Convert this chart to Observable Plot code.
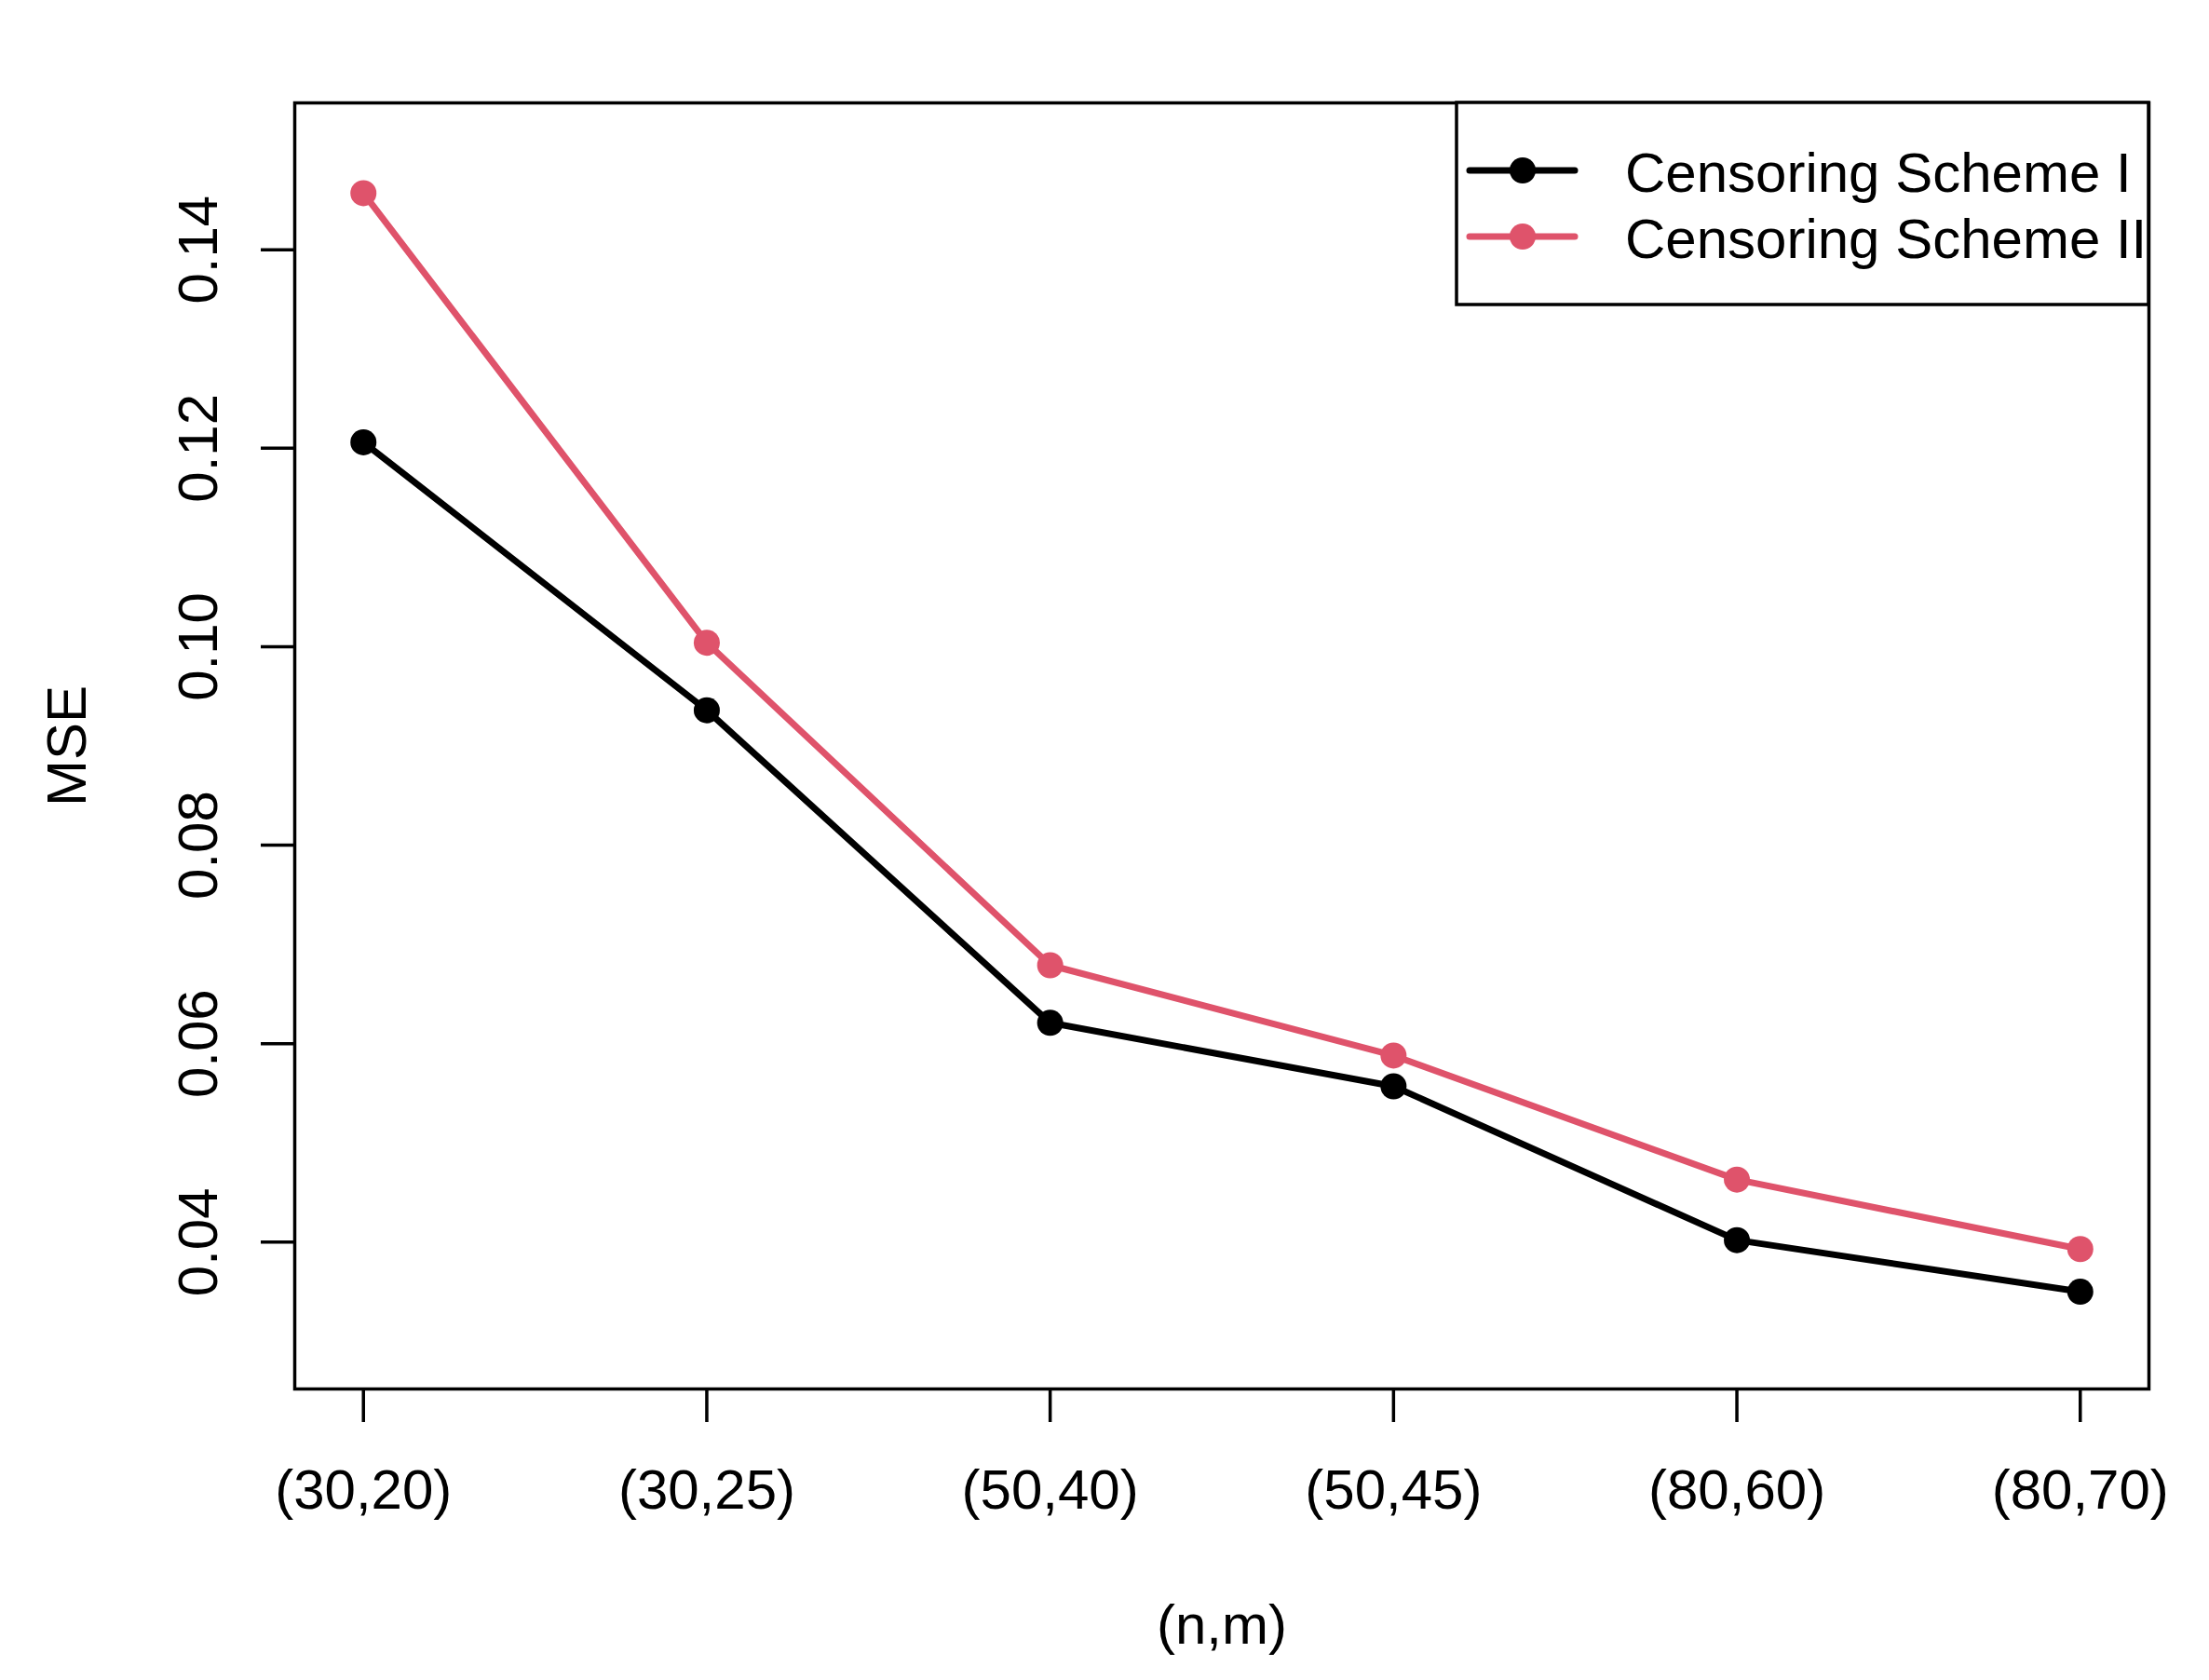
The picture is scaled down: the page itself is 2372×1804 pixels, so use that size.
<!DOCTYPE html>
<html>
<head>
<meta charset="utf-8">
<script src="https://cdn.jsdelivr.net/npm/d3@7"></script>
<script src="https://cdn.jsdelivr.net/npm/@observablehq/plot@0.6"></script>
<style>
  html, body { margin: 0; padding: 0; background: #fff; }
  #chart { width: 2372px; height: 1804px; }
</style>
</head>
<body>
<div id="chart"></div>
<script>
// ---- data ----
const categories = ["(30,20)", "(30,25)", "(50,40)", "(50,45)", "(80,60)", "(80,70)"];
const schemeI  = [0.1206, 0.0936, 0.0621, 0.0557, 0.0402, 0.0350];
const schemeII = [0.1457, 0.1004, 0.0679, 0.0588, 0.0463, 0.0393];
const seriesNames = ["Censoring Scheme I", "Censoring Scheme II"];
const seriesColors = ["#000000", "#DF536B"];
const yTicks = [0.04, 0.06, 0.08, 0.10, 0.12, 0.14];
const yLimits = [0.03, 0.15];
const xLabel = "(n,m)";
const yLabel = "MSE";

// ---- table ----
const xIndex = categories.map((c, i) => i + 1);
const rows = [];
[schemeI, schemeII].forEach((vals, s) => {
  vals.forEach((v, i) => rows.push({x: xIndex[i], cat: categories[i], value: v, series: seriesNames[s]}));
});

// R-style 4% axis extension
const ext = (lo, hi) => { const d = (hi - lo) * 0.04; return [lo - d, hi + d]; };
const xDomain = ext(xIndex[0], xIndex[xIndex.length - 1]);
const yDomain = ext(yLimits[0], yLimits[1]);

const W = 2372, H = 1804;
const mL = 316, mR = 65, mT = 110, mB = 313;
const font = "'Liberation Sans', Arial, Helvetica, sans-serif";

const chart = Plot.plot({
  width: W,
  height: H,
  marginLeft: mL,
  marginRight: mR,
  marginTop: mT,
  marginBottom: mB,
  style: {fontFamily: font, fontSize: "60px", background: "#fff", color: "#000"},
  x: {type: "linear", domain: xDomain},
  y: {type: "linear", domain: yDomain},
  color: {domain: seriesNames, range: seriesColors},
  marks: [
    Plot.frame({stroke: "#000", strokeWidth: 3.5}),
    Plot.axisX({
      ticks: xIndex,
      tickFormat: (d) => categories[d - 1],
      tickSize: 36,
      tickPadding: 50,
      strokeWidth: 3.5,
      strokeOpacity: 1,
      fontSize: 60,
      label: null
    }),
    Plot.axisY({
      ticks: yTicks,
      tickFormat: d3.format(".2f"),
      tickSize: 36,
      tickPadding: 48,
      tickRotate: -90,
      strokeWidth: 3.5,
      strokeOpacity: 1,
      fontSize: 60,
      label: null
    }),
    Plot.line(rows, {x: "x", y: "value", z: "series", stroke: "series", strokeWidth: 7, curve: "linear"}),
    Plot.dot(rows, {x: "x", y: "value", fill: "series", r: 14, stroke: null}),
    Plot.text([xLabel], {frameAnchor: "bottom", text: (d) => d, dy: 231, lineAnchor: "top", fontSize: 60}),
    Plot.text([yLabel], {frameAnchor: "left", text: (d) => d, dx: -225, rotate: -90, lineAnchor: "bottom", textAnchor: "middle", fontSize: 60})
  ]
});

document.getElementById("chart").appendChild(chart);

// ---- legend (top-right, R legend style) ----
const svg = d3.select(chart);
const lg = svg.append("g").attr("font-family", font).attr("font-size", 60).attr("text-anchor", "start");
const boxX1 = 1564, boxX2 = W - mR, boxY1 = mT, boxY2 = 327;
lg.append("rect")
  .attr("x", boxX1).attr("y", boxY1)
  .attr("width", boxX2 - boxX1).attr("height", boxY2 - boxY1)
  .attr("fill", "#fff").attr("stroke", "#000").attr("stroke-width", 3.5);
const rowY = [183, 254];
seriesNames.forEach((name, i) => {
  const y = rowY[i];
  lg.append("line").attr("x1", 1578).attr("x2", 1691).attr("y1", y).attr("y2", y)
    .attr("stroke", seriesColors[i]).attr("stroke-width", 7).attr("stroke-linecap", "round");
  lg.append("circle").attr("cx", 1635).attr("cy", y).attr("r", 14).attr("fill", seriesColors[i]);
  lg.append("text").attr("x", 1745).attr("y", y + 23).attr("fill", "#000").attr("text-anchor", "start").text(name);
});
</script>
</body>
</html>
